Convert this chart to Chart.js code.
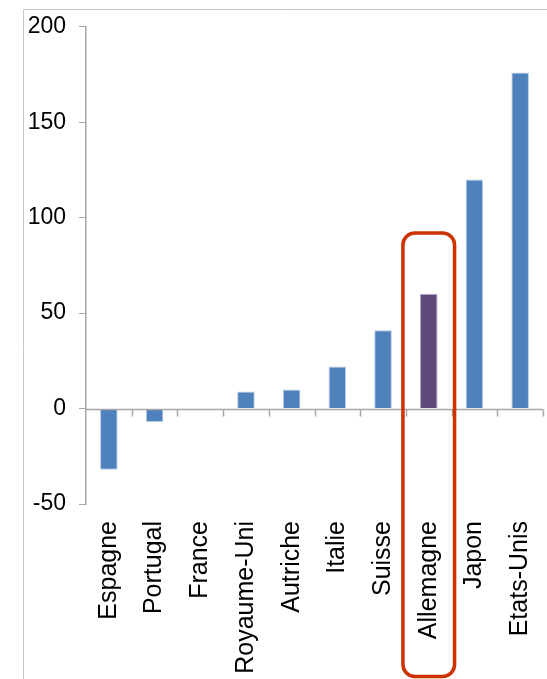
<!DOCTYPE html>
<html lang="fr">
<head>
<meta charset="utf-8">
<title>Comparaison par pays</title>
<script src="https://cdn.jsdelivr.net/npm/chart.js@4/dist/chart.umd.min.js"></script>
<style>
  html, body { margin: 0; padding: 0; background: #fff; }
  #wrap { position: relative; width: 547px; height: 679px; }
</style>
</head>
<body>
<div id="wrap"><canvas id="barChart" width="547" height="679"></canvas></div>
<script>
const pays = ["Espagne", "Portugal", "France", "Royaume-Uni", "Autriche", "Italie", "Suisse", "Allemagne", "Japon", "Etats-Unis"];
const valeurs = [-32, -7, 0, 9, 10, 22, 41, 60, 120, 176];
const yTicks = [-50, 0, 50, 100, 150, 200];
const paysMisEnAvant = "Allemagne";
const hautCadre = 92; // haut du cadre rouge, en unités de l'axe

const bleu = "#4F81BD";
const violet = "#604A7B";
const gris = "#a6a6a6";

// Ligne du zéro, graduations des catégories, cadre de fond et encadré rouge
const decor = {
    id: 'decor',
    beforeDraw(chart) {
        const c = chart.ctx;
        c.save();
        c.strokeStyle = "#c8c8c8";
        c.lineWidth = 1;
        c.beginPath();
        c.moveTo(23.5, chart.height);
        c.lineTo(23.5, 9.5);
        c.lineTo(chart.width, 9.5);
        c.stroke();
        c.restore();
    },
    afterDatasetsDraw(chart) {
        const c = chart.ctx;
        const x = chart.scales.x;
        const y = chart.scales.y;
        const area = chart.chartArea;
        const y0 = Math.round(y.getPixelForValue(0)) + 0.5;
        const pas = x.getPixelForValue(1) - x.getPixelForValue(0);

        c.save();
        c.strokeStyle = gris;
        c.lineWidth = 1.5;
        c.beginPath();
        c.moveTo(area.left, y0);
        c.lineTo(area.right, y0);
        for (let i = 0; i < pays.length; i++) {
            const xb = Math.round(x.getPixelForValue(i) + pas / 2) + 0.5;
            c.moveTo(xb, y0);
            c.lineTo(xb, y0 + 7);
        }
        c.stroke();

        // encadré rouge autour du pays mis en avant
        const idx = pays.indexOf(paysMisEnAvant);
        const cx = x.getPixelForValue(idx);
        const demi = pas * 0.565;
        const top = y.getPixelForValue(hautCadre);
        const bas = chart.height - 2.5;
        c.strokeStyle = "#cc3300";
        c.lineWidth = 3.5;
        c.beginPath();
        c.roundRect(cx - demi, top, demi * 2, bas - top, 12);
        c.stroke();
        c.restore();
    }
};

const ctx = document.getElementById('barChart').getContext('2d');

const chart = new Chart(ctx, {
    type: 'bar',
    data: {
        labels: pays,
        datasets: [{
            data: valeurs,
            backgroundColor: pays.map(p => p === paysMisEnAvant ? violet : bleu),
            borderColor: pays.map(p => p === paysMisEnAvant ? "#b3a2c7" : "#b9cde5"),
            borderWidth: 1,
            categoryPercentage: 1,
            barPercentage: 0.385
        }]
    },
    options: {
        responsive: false,
        animation: false,
        layout: { padding: { top: 12, right: 4, left: 0, bottom: 0 } },
        plugins: {
            legend: { display: false },
            tooltip: { enabled: false }
        },
        scales: {
            x: {
                offset: true,
                grid: { display: false },
                border: { display: false },
                ticks: {
                    minRotation: 90,
                    maxRotation: 90,
                    padding: 9,
                    color: "#000",
                    font: { family: "Liberation Sans, Arial, sans-serif", size: 25 }
                },
                afterFit(scale) {
                    scale.height = 175;
                    scale.paddingLeft = 0;
                    scale.paddingRight = 0;
                }
            },
            y: {
                min: -50,
                max: 200,
                grid: {
                    drawOnChartArea: false,
                    drawTicks: true,
                    tickLength: 7,
                    color: gris
                },
                border: { display: true, color: gris, width: 1.5 },
                ticks: {
                    padding: 13,
                    color: "#000",
                    font: { family: "Liberation Sans, Arial, sans-serif", size: 23 }
                },
                afterBuildTicks(scale) {
                    scale.ticks = yTicks.map(v => ({ value: v }));
                },
                afterFit(scale) { scale.width = 86; }
            }
        }
    },
    plugins: [decor]
});
</script>
</body>
</html>
